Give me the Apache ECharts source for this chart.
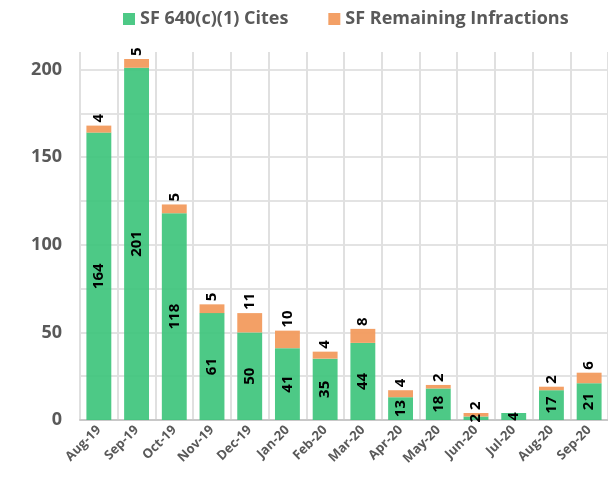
<!DOCTYPE html>
<html>
<head>
<meta charset="utf-8">
<script src="https://cdn.jsdelivr.net/npm/echarts@6/dist/echarts.min.js"></script>
<style>
  html, body { margin: 0; padding: 0; background: #fff; }
  #chart { width: 608px; height: 477px; }
</style>
</head>
<body>
<div id="chart"></div>
<script>
// Monthly SF citations, split into 640(c)(1) cites and the remaining infractions
var months = ['Aug-19', 'Sep-19', 'Oct-19', 'Nov-19', 'Dec-19', 'Jan-20', 'Feb-20',
              'Mar-20', 'Apr-20', 'May-20', 'Jun-20', 'Jul-20', 'Aug-20', 'Sep-20'];
var cites640 = [164, 201, 118, 61, 50, 41, 35, 44, 13, 18, 2, 4, 17, 21];
var remaining = [4, 5, 5, 5, 11, 10, 4, 8, 4, 2, 2, 0, 2, 6];
var seriesNames = ['SF 640(c)(1) Cites', 'SF Remaining Infractions'];

var FONT = '"Open Sans", "Liberation Sans", sans-serif';
var GREY = '#595959';

// grid lines every 25; the line at the axis max is left undrawn
var gridColors = ['#e3e3e3', '#e3e3e3', '#e3e3e3', '#e3e3e3', '#e3e3e3',
                  '#e3e3e3', '#e3e3e3', '#e3e3e3', '#e3e3e3', 'rgba(0,0,0,0)'];

var chart = echarts.init(document.getElementById('chart'), null, { renderer: 'canvas' });

chart.setOption({
  animation: false,
  backgroundColor: '#ffffff',
  legend: {
    top: 5,
    left: 118,
    itemWidth: 12,
    itemHeight: 12,
    itemGap: 40,
    icon: 'rect',
    textStyle: { fontFamily: FONT, fontWeight: 'bold', fontSize: 18, color: GREY }
  },
  grid: { left: 80, right: -4, top: 52, bottom: 57, containLabel: false },
  xAxis: {
    type: 'category',
    data: months,
    boundaryGap: true,
    axisLine: { show: true, lineStyle: { color: '#c8c8c8', width: 2 } },
    axisTick: { show: false },
    splitLine: { show: true, lineStyle: { color: '#e0e0e0', width: 2 } },
    axisLabel: {
      interval: 0,
      rotate: 45,
      margin: 8,
      fontFamily: FONT,
      fontWeight: 'bold',
      fontSize: 13,
      color: GREY
    }
  },
  yAxis: {
    type: 'value',
    min: 0,
    max: 210,
    interval: 25,
    axisLine: { show: false },
    axisTick: { show: false },
    splitLine: { show: true, lineStyle: { color: gridColors, width: 2 } },
    axisLabel: {
      margin: 18,
      fontFamily: FONT,
      fontWeight: 'bold',
      fontSize: 18,
      color: GREY,
      showMaxLabel: false,
      formatter: function (v) { return v % 50 === 0 ? String(v) : ''; }
    }
  },
  series: [
    {
      name: seriesNames[0],
      type: 'bar',
      stack: 'total',
      data: cites640,
      barWidth: '66%',
      itemStyle: { color: 'rgba(62,196,124,0.92)' },
      label: {
        show: true,
        position: 'inside',
        rotate: 90,
        fontFamily: FONT,
        fontWeight: 'bold',
        fontSize: 15,
        color: '#000'
      }
    },
    {
      name: seriesNames[1],
      type: 'bar',
      stack: 'total',
      data: remaining,
      barWidth: '66%',
      itemStyle: { color: 'rgba(242,155,94,0.95)' },
      label: {
        show: true,
        position: 'top',
        rotate: 90,
        align: 'left',
        verticalAlign: 'middle',
        distance: 3,
        fontFamily: FONT,
        fontWeight: 'bold',
        fontSize: 15,
        color: '#000',
        formatter: function (p) { return p.value ? String(p.value) : ''; }
      }
    }
  ]
});
</script>
</body>
</html>
